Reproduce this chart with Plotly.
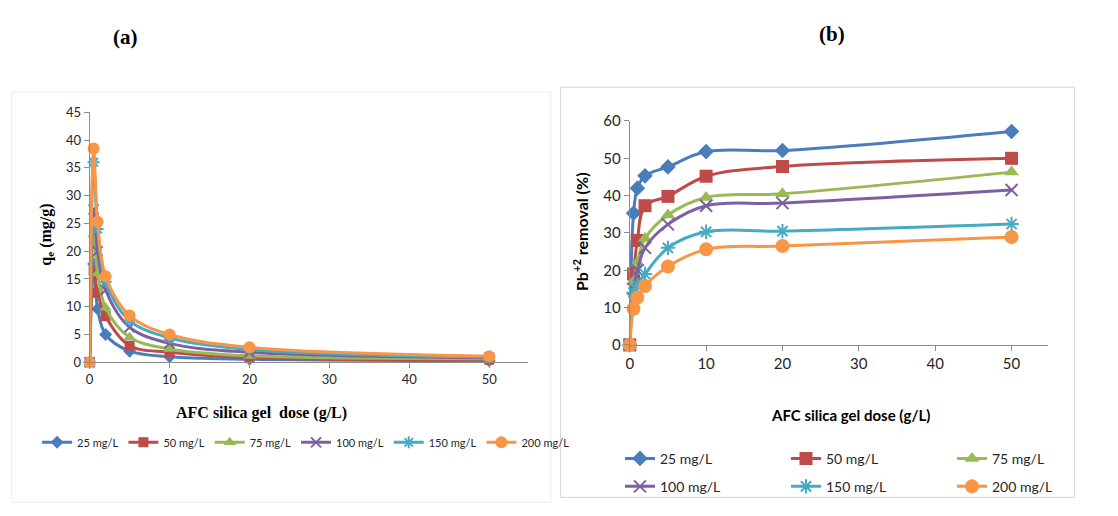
import plotly.graph_objects as go

# ---------------- data ----------------
dose = [0, 0.5, 1, 2, 5, 10, 20, 50]
series_names = ["25 mg/L", "50 mg/L", "75 mg/L", "100 mg/L", "150 mg/L", "200 mg/L"]

# (a) adsorption capacity qe (mg/g)
qe_25 = [0, 17.7, 9.6, 5.0, 2.0, 1.0, 0.55, 0.28]
qe_50 = [0, 16.5, 12.5, 8.3, 3.0, 1.8, 0.85, 0.45]
qe_75 = [0, 23.0, 16.0, 9.8, 4.5, 2.4, 1.15, 0.65]
qe_100 = [0, 27.5, 20.0, 13.0, 6.3, 3.4, 1.8, 0.8]
qe_150 = [0, 36.0, 24.0, 14.5, 7.5, 4.4, 2.3, 0.95]
qe_200 = [0, 38.5, 25.3, 15.5, 8.4, 5.0, 2.7, 1.1]

# (b) Pb+2 removal (%)
rem_25 = [0, 35.3, 42.0, 45.3, 47.7, 51.8, 52.1, 57.2]
rem_50 = [0, 19.0, 28.0, 37.3, 39.8, 45.2, 47.8, 50.0]
rem_75 = [0, 17.0, 22.0, 28.5, 34.8, 39.5, 40.5, 46.3]
rem_100 = [0, 15.0, 20.0, 26.0, 32.3, 37.3, 38.0, 41.5]
rem_150 = [0, 14.0, 16.0, 19.0, 26.0, 30.3, 30.5, 32.4]
rem_200 = [0, 9.7, 12.7, 15.8, 21.0, 25.6, 26.5, 28.9]

x_ticks = [0, 10, 20, 30, 40, 50]
qe_ticks = [0, 5, 10, 15, 20, 25, 30, 35, 40, 45]
rem_ticks = [0, 10, 20, 30, 40, 50, 60]

qe_series = [qe_25, qe_50, qe_75, qe_100, qe_150, qe_200]
rem_series = [rem_25, rem_50, rem_75, rem_100, rem_150, rem_200]

colors = ["#4A7EBB", "#BE4B48", "#98B954", "#7D60A0", "#46AAC5", "#F79646"]
symbols = ["diamond", "square", "triangle-up", "x-thin-open", "asterisk-open", "circle"]
sizes_a = [10, 10, 11, 10, 10, 12]
sizes_b = [12, 13, 13, 12, 12, 14]

W, H = 1118, 516
fig = go.Figure()

def px_x(p):
    return p / W

def px_y(p):
    return 1 - p / H

# ---------------- panel (a) ----------------
for i, name in enumerate(series_names):
    mk = dict(color=colors[i], size=sizes_a[i], symbol=symbols[i])
    if "open" in symbols[i]:
        mk["line"] = dict(color=colors[i], width=2)
    fig.add_trace(go.Scatter(
        x=dose, y=qe_series[i], name=name, mode="lines+markers",
        line=dict(color=colors[i], width=3, shape="spline", smoothing=1),
        marker=mk, xaxis="x", yaxis="y", legend="legend", cliponaxis=False,
    ))

# ---------------- panel (b) ----------------
for i, name in enumerate(series_names):
    mk = dict(color=colors[i], size=sizes_b[i], symbol=symbols[i])
    if "open" in symbols[i]:
        mk["line"] = dict(color=colors[i], width=2)
    fig.add_trace(go.Scatter(
        x=dose, y=rem_series[i], name=name, mode="lines+markers",
        line=dict(color=colors[i], width=3, shape="spline", smoothing=1),
        marker=mk, xaxis="x2", yaxis="y2",
        legend="legend2" if i < 3 else "legend3", cliponaxis=False,
    ))

axis_common = dict(showgrid=False, zeroline=False, showline=True, linecolor="#8C8C8C",
                   linewidth=1, ticks="outside", ticklen=5, tickcolor="#8C8C8C",
                   fixedrange=True)

fig.update_layout(
    width=W, height=H, autosize=False,
    margin=dict(l=0, r=0, t=0, b=0),
    paper_bgcolor="white", plot_bgcolor="white",
    font=dict(family="Lato, Carlito, sans-serif", color="#262626"),
    xaxis=dict(domain=[px_x(88), px_x(538)], range=[0, 54.8], tickvals=x_ticks,
               anchor="y", tickfont=dict(size=13, family="Lato"), **axis_common),
    yaxis=dict(domain=[px_y(365), px_y(106)], range=[0, 45], tickvals=qe_ticks,
               anchor="x", tickfont=dict(size=13, family="Lato"), **axis_common),
    xaxis2=dict(domain=[px_x(643), px_x(1073)], range=[0, 54.8], tickvals=x_ticks,
                anchor="y2", tickfont=dict(size=15, family="Lato"), **axis_common),
    yaxis2=dict(domain=[px_y(347), px_y(115)], range=[0, 60], tickvals=rem_ticks,
                anchor="x2", tickfont=dict(size=15, family="Lato"), **axis_common),
    legend=dict(orientation="h", x=px_x(34), xanchor="left", y=px_y(448), yanchor="middle",
                font=dict(size=11, family="Lato"), bgcolor="rgba(0,0,0,0)",
                itemwidth=30, tracegroupgap=0, traceorder="normal"),
    legend2=dict(orientation="h", x=px_x(633), xanchor="left", y=px_y(465), yanchor="middle",
                 font=dict(size=14, family="Lato"), bgcolor="rgba(0,0,0,0)",
                 entrywidth=121, itemwidth=30, traceorder="normal"),
    legend3=dict(orientation="h", x=px_x(633), xanchor="left", y=px_y(494), yanchor="middle",
                 font=dict(size=14, family="Lato"), bgcolor="rgba(0,0,0,0)",
                 entrywidth=121, itemwidth=30, traceorder="normal"),
    showlegend=True,
)

# chart frames
fig.add_shape(type="rect", xref="paper", yref="paper",
              x0=px_x(8), x1=px_x(562), y0=px_y(510), y1=px_y(85),
              line=dict(color="#EDEDED", width=1), layer="below")
fig.add_shape(type="rect", xref="paper", yref="paper",
              x0=px_x(572), x1=px_x(1100), y0=px_y(505), y1=px_y(80),
              line=dict(color="#D4D4D4", width=1), layer="below")

serif_bold = "Liberation Serif, Times New Roman, serif"
annotations = [
    dict(text="<b>(a)</b>", x=px_x(125), y=px_y(28), font=dict(size=21, family=serif_bold, color="black")),
    dict(text="<b>(b)</b>", x=px_x(851), y=px_y(25), font=dict(size=21, family=serif_bold, color="black")),
    dict(text="<b>AFC silica gel  dose (g/L)</b>", x=px_x(265), y=px_y(418),
         font=dict(size=16, family=serif_bold, color="black")),
    dict(text="<b>q<sub>e</sub> (mg/g)</b>", x=px_x(44), y=px_y(233), textangle=-90,
         font=dict(size=16, family=serif_bold, color="black")),
    dict(text="<b>AFC silica gel dose (g/L)</b>", x=px_x(870), y=px_y(420),
         font=dict(size=15, family="Lato", color="black")),
    dict(text="<b>Pb<sup>+2</sup> removal (%)</b>", x=px_x(593), y=px_y(230), textangle=-90,
         font=dict(size=16, family="Lato", color="black")),
]
for a in annotations:
    a.update(xref="paper", yref="paper", showarrow=False, xanchor="center", yanchor="middle")
    fig.add_annotation(**a)

fig.write_html("out.html")
